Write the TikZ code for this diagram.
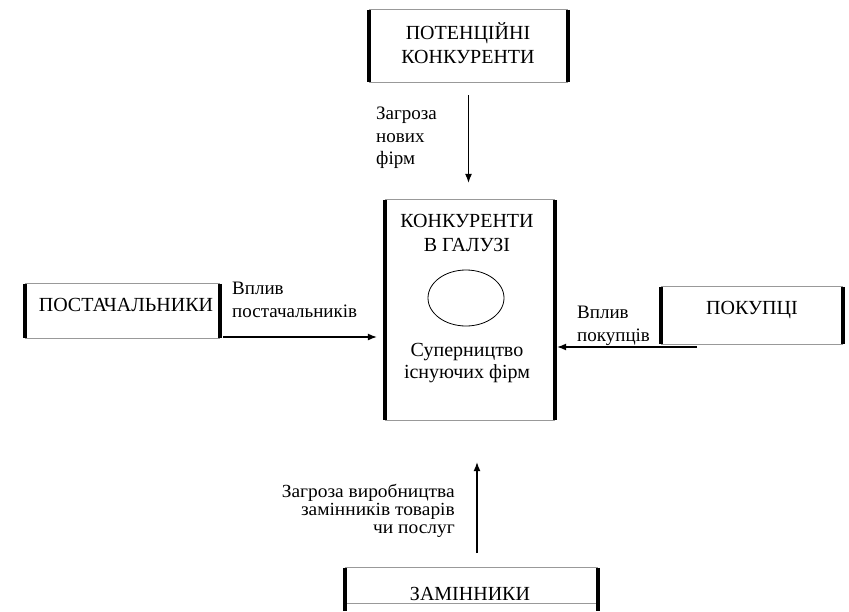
\documentclass[tikz,border=0pt]{standalone}
\usepackage{fontspec}
\setmainfont{Liberation Serif}
\newfontfamily\widefont{Liberation Serif}[FakeStretch=1.05]
\usetikzlibrary{arrows.meta,shapes.geometric,calc}
\newcommand\drawframe[1]{%
  \draw[rule] (#1.north west) -- (#1.north east) (#1.south west) -- (#1.south east);
  \draw[bar] (#1.north west) -- (#1.south west) (#1.north east) -- (#1.south east);}
\begin{document}
\begin{tikzpicture}[x=1pt,y=-1pt,
  boxtext/.style={font=\fontsize{20}{23.5}\selectfont, align=center, inner sep=0pt},
  lbl/.style={font=\fontsize{19}{22.5}\selectfont, inner sep=0pt},
  frame/.style={draw=none, inner sep=0pt},
  bar/.style={line width=4pt, black},
  rule/.style={line width=0.7pt, black!40},
  arr/.style={line width=1.1pt, -{Latex[length=9pt,width=7pt]}},
]
\useasboundingbox[fill=white] (0,0) rectangle (849,611);

% top box
\node[frame, minimum width=199pt, minimum height=72pt] (topbox) at (468.5,46) {};
\drawframe{topbox}
\node[boxtext] (toptxt) at (468,43) {ПОТЕНЦІЙНІ\\КОНКУРЕНТИ};

% central box
\node[frame, minimum width=170pt, minimum height=220pt] (mid) at (470,310) {};
\drawframe{mid}
\node[boxtext] (midtop) at (467,233) {КОНКУРЕНТИ\\В ГАЛУЗІ};
\node[draw, ellipse, line width=0.8pt, minimum width=76pt, minimum height=56pt, inner sep=0pt] (oval) at (466,298) {};
\node[boxtext, font=\fontsize{20}{22}\selectfont] (midbot) at (467,363.5) {Суперництво\\існуючих фірм};

% left box
\node[frame, minimum width=195pt, minimum height=54pt] (leftbox) at (122.5,311) {};
\drawframe{leftbox}
\node[boxtext] (lefttxt) at (126,305) {ПОСТАЧАЛЬНИКИ};

% right box
\node[frame, minimum width=181pt, minimum height=57pt] (rightbox) at (752,315.5) {};
\drawframe{rightbox}
\node[boxtext] (righttxt) at (752,310) {ПОКУПЦІ};

% bottom box
\node[frame, minimum width=253pt, minimum height=43pt] (botbox) at (471.5,589.5) {};
\draw[rule] (botbox.north west) -- (botbox.north east)
  ($(botbox.south west)+(0,-8)$) -- ($(botbox.south east)+(0,-8)$);
\draw[bar] (botbox.north west) -- (botbox.south west) (botbox.north east) -- (botbox.south east);
\node[boxtext] (bottxt) at (470,594) {ЗАМІННИКИ};

% connectors
\draw[arr, shorten <=13pt, shorten >=17pt] (topbox.south) -- (topbox.south |- mid.north);
\coordinate (lstart) at (223,337);
\draw[arr, shorten >=8pt] (lstart) -- (lstart -| mid.west);
\coordinate (rstart) at (697,347);
\draw[arr, shorten >=2pt] (rstart) -- (rstart -| mid.east);
\coordinate (bstart) at (477,553);
\draw[arr, shorten >=42pt] (bstart) -- (bstart |- mid.south);

% labels
\node[lbl, anchor=west, align=left] (lbltop) at (376,138) {Загроза\\нових\\фірм};
\node[lbl, anchor=west, align=left] (lblleft) at (232,300) {Вплив\\постачальників};
\node[lbl, anchor=west, align=left] (lblright) at (577,326) {Вплив\\покупців};
\node[lbl, anchor=east, align=right, font=\widefont\fontsize{18.5}{18}\selectfont] (lblbot) at (455,511) {Загроза виробництва\\замінників товарів\\чи послуг};
\end{tikzpicture}
\end{document}
